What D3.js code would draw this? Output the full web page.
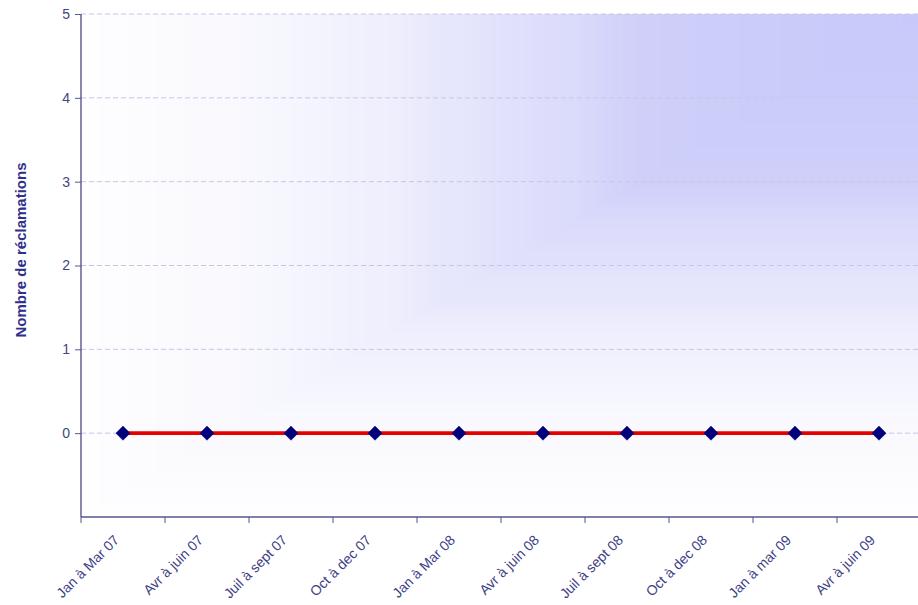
<!DOCTYPE html>
<html><head><meta charset="utf-8">
<script src="https://cdn.jsdelivr.net/npm/d3@7"></script>
<style>body{margin:0;background:#fff;}svg{display:block;}</style>
</head><body>
<svg id="c" width="918" height="605"></svg>
<script>
const categories = ["Jan à Mar 07","Avr à juin 07","Juil à sept 07","Oct à dec 07","Jan à Mar 08","Avr à  juin 08","Juil à sept 08","Oct à dec 08","Jan à mar 09","Avr à juin 09"];
const values = [0,0,0,0,0,0,0,0,0,0];
const yTicks = [0,1,2,3,4,5];
const yTitle = "Nombre de réclamations";

(function(){
const svg = d3.select("#c");
const mL = 81, mR = 921, mT = 14, mB = 517;
const x = d3.scaleBand().domain(categories).range([mL, mR]).padding(0);
const y = d3.scaleLinear().domain([-1, 5]).range([mB, mT]);

// "from corner" rectangular gradient (top-right corner)
const W = mR - mL, H = mB - mT;
const ramp = d3.scaleLinear()
  .domain([0, 0.34, 0.41, 0.58, 0.64, 0.8, 1])
  .range(["#c8c8fa","#cfcffa","#dadafb","#e8e8fc","#efeffd","#f8f8fe","#fefeff"])
  .interpolate(d3.interpolateRgb);
const N = 180;
const steps = d3.range(N).map(i => 1 - i / N);
svg.append("g").selectAll("rect").data(steps).join("rect")
  .attr("x", t => mR - t * W).attr("y", mT)
  .attr("width", t => t * W).attr("height", t => t * H)
  .attr("fill", t => ramp(t));

svg.append("g").selectAll("line").data(yTicks).join("line")
  .attr("x1",mL).attr("x2",918).attr("y1",d=>y(d)).attr("y2",d=>y(d))
  .attr("stroke","#c6c6e4").attr("stroke-width",1).attr("stroke-dasharray","5,3");

const font = "Arial, 'Liberation Sans', sans-serif";
const ya = svg.append("g").attr("transform",`translate(${mL},0)`)
  .call(d3.axisLeft(y).tickValues(yTicks).tickSize(6).tickPadding(5).tickFormat(d3.format("d")));
ya.select(".domain").attr("stroke","#55558f").attr("stroke-width",1.4).attr("d",`M0,${mT}V${mB}`);
ya.selectAll(".tick line").attr("stroke","#55558f");
ya.selectAll("text").attr("fill","#45457a").style("font-family",font).style("font-size","14px");

const xa = svg.append("g").attr("transform",`translate(0,${mB})`)
  .call(d3.axisBottom(x).tickSize(0).tickPadding(0));
xa.select(".domain").attr("stroke","#55558f").attr("stroke-width",1.4).attr("d",`M${mL},0H918`);
xa.selectAll(".tick line").remove();
const bounds = categories.map(c=>x(c)).concat([x(categories[categories.length-1])+x.bandwidth()]);
xa.selectAll(".btick").data(bounds).join("line").attr("class","btick")
  .attr("x1",d=>d).attr("x2",d=>d).attr("y1",0).attr("y2",6).attr("stroke","#55558f");
xa.selectAll(".tick text")
  .attr("fill","#3e3e86").style("font-family",font).style("font-size","14px")
  .attr("text-anchor","end").attr("dy",0).attr("y",0)
  .attr("transform","translate(-3,24) rotate(-45)");

svg.append("text").attr("transform","translate(26,250) rotate(-90)")
  .attr("text-anchor","middle").attr("fill","#30308c")
  .style("font-family",font).style("font-size","15px").style("font-weight","bold")
  .text(yTitle);

const data = categories.map((c,i)=>({c, v:values[i]}));
svg.append("path").datum(data)
  .attr("d", d3.line().x(d=>x(d.c)+x.bandwidth()/2).y(d=>y(d.v)))
  .attr("fill","none").attr("stroke","#e60000").attr("stroke-width",3.6);

svg.append("g").selectAll("path").data(data).join("path")
  .attr("transform",d=>`translate(${x(d.c)+x.bandwidth()/2},${y(d.v)})`)
  .attr("d", d3.symbol().type(d3.symbolDiamond2).size(128))
  .attr("fill","#00007a").attr("stroke","#00007a").attr("stroke-width",0.5);
})();
</script>
</body></html>
